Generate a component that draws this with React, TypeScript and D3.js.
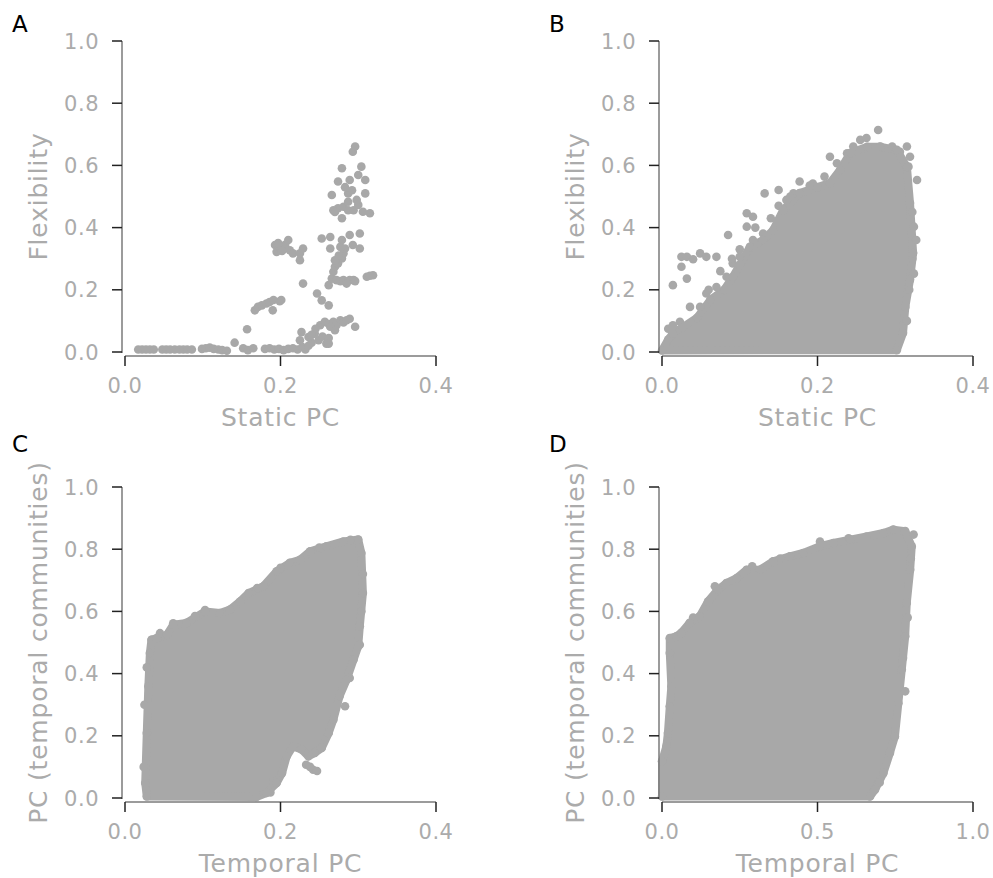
import React from 'react';
import * as d3 from 'd3';

// values
const yTicks = [0, 0.2, 0.4, 0.6, 0.8, 1.0];
const xTicksPC = [0, 0.2, 0.4];
const xTicksTemporal = [0, 0.5, 1.0];

// A: static PC vs flexibility (individual points)
const flexA = [
  [0.017,0.008],[0.022,0.008],[0.027,0.008],[0.032,0.008],[0.037,0.008],
  [0.048,0.008],[0.053,0.008],[0.058,0.008],[0.064,0.008],[0.07,0.008],[0.075,0.008],[0.08,0.008],[0.086,0.008],
  [0.099,0.01],[0.104,0.012],[0.109,0.014],[0.114,0.01],[0.12,0.008],[0.125,0.006],[0.131,0.004],
  [0.141,0.03],[0.152,0.012],[0.158,0.006],[0.165,0.012],[0.157,0.073],
  [0.18,0.01],[0.186,0.012],[0.192,0.008],[0.198,0.01],[0.204,0.006],[0.21,0.01],[0.216,0.012],[0.222,0.008],
  [0.228,0.016],[0.232,0.008],[0.236,0.02],[0.24,0.03],
  [0.227,0.064],[0.225,0.038],[0.236,0.048],[0.244,0.059],[0.249,0.038],[0.254,0.05],[0.259,0.027],[0.262,0.045],
  [0.251,0.086],[0.257,0.097],[0.262,0.09],[0.268,0.097],[0.272,0.086],[0.277,0.102],[0.281,0.095],[0.285,0.102],
  [0.289,0.107],[0.296,0.081],[0.264,0.081],[0.262,0.027],[0.27,0.07],[0.245,0.075],[0.24,0.055],
  [0.167,0.134],[0.171,0.145],[0.176,0.15],[0.182,0.156],[0.186,0.161],[0.191,0.167],[0.199,0.163],[0.201,0.167],[0.19,0.134],
  [0.193,0.344],[0.195,0.322],[0.199,0.338],[0.204,0.333],[0.206,0.345],[0.21,0.36],[0.212,0.327],[0.216,0.317],
  [0.225,0.295],[0.229,0.333],[0.225,0.317],[0.197,0.35],[0.202,0.325],
  [0.229,0.22],[0.247,0.188],[0.253,0.166],[0.262,0.15],
  [0.262,0.215],[0.266,0.236],[0.268,0.258],[0.27,0.274],[0.274,0.285],[0.279,0.301],[0.281,0.317],[0.283,0.333],
  [0.277,0.338],[0.264,0.333],[0.253,0.365],[0.264,0.37],[0.279,0.36],[0.289,0.376],[0.302,0.381],[0.302,0.333],
  [0.293,0.344],[0.275,0.31],[0.27,0.295],
  [0.272,0.231],[0.277,0.228],[0.281,0.231],[0.285,0.226],[0.289,0.231],[0.294,0.231],[0.296,0.228],[0.285,0.22],
  [0.311,0.242],[0.315,0.245],[0.319,0.247],
  [0.268,0.456],[0.274,0.462],[0.281,0.467],[0.287,0.456],[0.294,0.456],[0.3,0.473],[0.306,0.451],[0.315,0.446],
  [0.279,0.43],[0.287,0.483],[0.27,0.45],
  [0.266,0.505],[0.287,0.51],[0.298,0.489],[0.309,0.51],[0.274,0.548],[0.289,0.553],[0.3,0.569],[0.309,0.553],
  [0.279,0.591],[0.304,0.596],[0.293,0.644],[0.296,0.661],[0.292,0.52],[0.283,0.53],
];

// B: dense cloud -> outline of the solid region plus the loose points around it
const cloudB = [
  [0.0,0.005],[0.008,0.04],[0.014,0.06],[0.027,0.08],[0.045,0.11],[0.062,0.167],[0.08,0.2],[0.091,0.241],
  [0.1,0.28],[0.113,0.338],[0.13,0.36],[0.143,0.392],[0.156,0.457],[0.177,0.511],[0.2,0.53],[0.216,0.543],
  [0.229,0.585],[0.242,0.64],[0.264,0.66],[0.28,0.66],[0.302,0.65],[0.315,0.595],[0.319,0.479],[0.323,0.318],
  [0.319,0.232],[0.313,0.145],[0.31,0.061],[0.302,0.006],
];
const looseB = [
  [0.008,0.075],[0.014,0.086],[0.023,0.097],[0.014,0.215],[0.025,0.274],[0.025,0.306],[0.032,0.306],[0.04,0.298],
  [0.049,0.317],[0.057,0.306],[0.07,0.306],[0.032,0.236],[0.036,0.145],[0.049,0.145],[0.057,0.188],[0.07,0.209],
  [0.083,0.242],[0.091,0.285],[0.1,0.306],[0.085,0.376],[0.109,0.446],[0.117,0.435],[0.109,0.403],[0.117,0.36],
  [0.13,0.381],[0.132,0.51],[0.15,0.521],[0.16,0.489],[0.169,0.51],[0.177,0.548],[0.194,0.542],[0.209,0.564],
  [0.216,0.628],[0.225,0.607],[0.238,0.639],[0.246,0.661],[0.255,0.682],[0.263,0.688],[0.278,0.714],[0.281,0.661],
  [0.296,0.661],[0.306,0.644],[0.315,0.661],[0.319,0.628],[0.317,0.596],[0.328,0.553],[0.324,0.403],[0.324,0.252],
  [0.327,0.36],[0.06,0.2],[0.075,0.26],[0.09,0.3],[0.1,0.33],[0.12,0.4],[0.14,0.43],[0.15,0.47],[0.165,0.5],
  [0.19,0.535],[0.322,0.45],[0.322,0.3],[0.318,0.2],[0.315,0.1],
];

// C: temporal PC vs PC (temporal communities)
const cloudC = [
  [0.028,0.005],[0.026,0.048],[0.028,0.209],[0.03,0.359],[0.032,0.466],[0.034,0.509],[0.041,0.514],[0.054,0.525],
  [0.062,0.557],[0.079,0.563],[0.103,0.6],[0.122,0.595],[0.135,0.606],[0.148,0.632],[0.159,0.659],[0.178,0.681],
  [0.195,0.729],[0.212,0.756],[0.225,0.766],[0.238,0.793],[0.259,0.809],[0.281,0.825],[0.3,0.831],[0.304,0.788],
  [0.306,0.659],[0.302,0.552],[0.3,0.488],[0.294,0.445],[0.285,0.38],[0.276,0.327],[0.268,0.252],[0.262,0.209],
  [0.253,0.161],[0.244,0.145],[0.236,0.134],[0.227,0.156],[0.216,0.166],[0.208,0.134],[0.202,0.08],[0.195,0.048],
  [0.182,0.016],[0.169,0.003],
];
const looseC = [
  [0.242,0.091],[0.233,0.107],[0.238,0.1],[0.247,0.087],[0.283,0.295],[0.289,0.386],[0.302,0.493],[0.191,0.054],
  [0.187,0.018],[0.103,0.604],[0.062,0.562],[0.024,0.1],[0.025,0.3],[0.028,0.42],[0.045,0.53],[0.09,0.585],
  [0.17,0.675],[0.2,0.74],[0.25,0.805],[0.29,0.83],[0.306,0.72],[0.304,0.6],
];

// D: temporal PC (0-1) vs PC (temporal communities)
const cloudD = [
  [0,0.005],[0,0.118],[0.014,0.166],[0.019,0.209],[0.025,0.295],[0.03,0.359],[0.025,0.466],[0.025,0.514],
  [0.046,0.52],[0.062,0.531],[0.089,0.563],[0.121,0.584],[0.148,0.632],[0.18,0.67],[0.207,0.691],[0.24,0.707],
  [0.272,0.734],[0.315,0.734],[0.357,0.761],[0.411,0.777],[0.454,0.788],[0.508,0.81],[0.551,0.82],[0.605,0.831],
  [0.658,0.841],[0.712,0.852],[0.744,0.863],[0.782,0.858],[0.803,0.809],[0.798,0.734],[0.787,0.627],[0.782,0.52],
  [0.771,0.413],[0.76,0.305],[0.749,0.198],[0.733,0.145],[0.712,0.08],[0.685,0.027],[0.669,0.005],
];
const looseD = [
  [0.17,0.681],[0.508,0.825],[0.809,0.847],[0.782,0.343],[0.1,0.58],[0.29,0.745],[0.38,0.77],[0.6,0.835],
  [0.8,0.77],[0.79,0.58],[0.775,0.45],[0.7,0.05],
];

const GREY = '#a8a8a8';
const LABEL = '#ababab';
const FONT = '"DejaVu Sans", sans-serif';
const fmt = d3.format('.1f');

const panels = [
  { letter: 'A', letterY: 32, left: 125, right: 436, top: 41, bottom: 352, xMax: 0.4, xTicks: xTicksPC,
    xLabel: 'Static PC', yLabel: 'Flexibility', points: flexA, cloud: null, loose: [] },
  { letter: 'B', letterY: 32, left: 662, right: 973, top: 41, bottom: 352, xMax: 0.4, xTicks: xTicksPC,
    xLabel: 'Static PC', yLabel: 'Flexibility', points: [], cloud: cloudB, loose: looseB },
  { letter: 'C', letterY: 452, left: 125, right: 436, top: 487, bottom: 798, xMax: 0.4, xTicks: xTicksPC,
    xLabel: 'Temporal PC', yLabel: 'PC (temporal communities)', points: [], cloud: cloudC, loose: looseC },
  { letter: 'D', letterY: 452, left: 662, right: 973, top: 487, bottom: 798, xMax: 1.0, xTicks: xTicksTemporal,
    xLabel: 'Temporal PC', yLabel: 'PC (temporal communities)', points: [], cloud: cloudD, loose: looseD },
];

function Panel({ p }) {
  const x = d3.scaleLinear().domain([0, p.xMax]).range([p.left, p.right]);
  const y = d3.scaleLinear().domain([0, 1]).range([p.bottom, p.top]);
  const ySpine = p.left - 3;
  const xSpine = p.bottom + 4;
  const outline = d3.line().x(d => x(d[0])).y(d => y(d[1])).curve(d3.curveLinearClosed);
  const dots = p.points.concat(p.loose, p.cloud || []);

  return (
    <g>
      <text x={p.left - 113} y={p.letterY} fontSize={23} fill="#000" fontFamily={FONT}>{p.letter}</text>

      {p.cloud && (
        <path d={outline(p.cloud)} fill={GREY} stroke={GREY} strokeWidth={8} strokeLinejoin="round" />
      )}
      {dots.map((d, i) => (
        <circle key={i} cx={x(d[0])} cy={y(d[1])} r={4.3} fill={GREY} />
      ))}

      {/* y axis */}
      <line x1={ySpine} x2={ySpine} y1={y(1)} y2={y(0) + 1} stroke="#7a7a7a" strokeWidth={1.5} />
      {yTicks.map(t => (
        <g key={t}>
          <line x1={ySpine - 10} x2={ySpine} y1={y(t)} y2={y(t)} stroke="#222" strokeWidth={1.5} />
          <text x={ySpine - 23} y={y(t)} dy="0.36em" textAnchor="end" fontSize={21} letterSpacing={0.5}
                fill={LABEL} fontFamily={FONT}>{fmt(t)}</text>
        </g>
      ))}

      {/* x axis */}
      <line x1={x(0)} x2={x(p.xMax)} y1={xSpine} y2={xSpine} stroke="#7a7a7a" strokeWidth={1.5} />
      {p.xTicks.map(t => (
        <g key={t}>
          <line x1={x(t)} x2={x(t)} y1={xSpine} y2={xSpine + 10} stroke="#222" strokeWidth={1.5} />
          <text x={x(t)} y={xSpine + 37} textAnchor="middle" fontSize={21} letterSpacing={0.5}
                fill={LABEL} fontFamily={FONT}>{fmt(t)}</text>
        </g>
      ))}

      <text x={(p.left + p.right) / 2} y={xSpine + 70} textAnchor="middle" fontSize={25} letterSpacing={0.8}
            fill={LABEL} fontFamily={FONT}>{p.xLabel}</text>
      <text transform={`translate(${p.left - 78},${(p.top + p.bottom) / 2}) rotate(-90)`} textAnchor="middle"
            fontSize={25} letterSpacing={0.8} fill={LABEL} fontFamily={FONT}>{p.yLabel}</text>
    </g>
  );
}

export default function App() {
  return (
    <svg width={993} height={878} style={{ position: 'absolute', left: 0, top: 0, background: '#fff' }}>
      {panels.map(p => <Panel key={p.letter} p={p} />)}
    </svg>
  );
}
